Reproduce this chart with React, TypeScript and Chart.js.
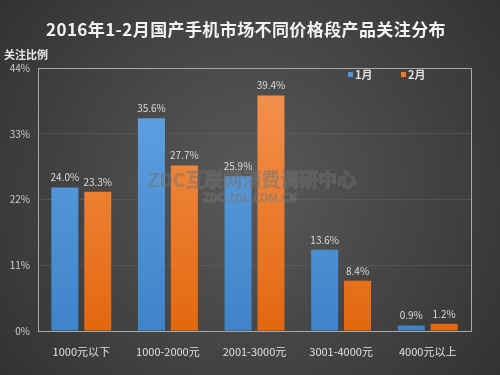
import React, { useEffect, useRef } from "react";
import { Chart, registerables } from "chart.js";

Chart.register(...registerables);

const categories = ["1000元以下", "1000-2000元", "2001-3000元", "3001-4000元", "4000元以上"];
const janValues = [24.0, 35.6, 25.9, 13.6, 0.9];
const febValues = [23.3, 27.7, 39.4, 8.4, 1.2];
const seriesNames = ["1月", "2月"];
const yTicks = [0, 11, 22, 33, 44];
const titleText = "2016年1-2月国产手机市场不同价格段产品关注分布";
const yAxisTitle = "关注比例";

const FONT = "'Noto Sans CJK SC', 'Noto Sans', sans-serif";

function makeGrad(ctx: CanvasRenderingContext2D, area: any, top: string, bottom: string) {
  const g = ctx.createLinearGradient(0, area.top, 0, area.bottom);
  g.addColorStop(0, top);
  g.addColorStop(1, bottom);
  return g;
}

const decorPlugin = {
  id: "decor",
  beforeDraw(chart: any) {
    const { ctx, width, height } = chart;
    ctx.save();
    const g = ctx.createRadialGradient(width / 2, height / 2, 20, width / 2, height / 2, 330);
    g.addColorStop(0, "#575757");
    g.addColorStop(1, "#303030");
    ctx.fillStyle = g;
    ctx.fillRect(0, 0, width, height);
    // title
    ctx.fillStyle = "#f2f2f2";
    ctx.font = `bold 17px ${FONT}`;
    ctx.textAlign = "center";
    ctx.textBaseline = "middle";
    (ctx as any).letterSpacing = "0.4px";
    ctx.fillText(titleText, 246, 30);
    (ctx as any).letterSpacing = "0px";
    // y axis title
    ctx.font = `bold 11px ${FONT}`;
    ctx.textAlign = "left";
    ctx.fillStyle = "#e8e8e8";
    ctx.fillText(yAxisTitle, 4, 55);
    ctx.restore();
  },
  beforeDatasetsDraw(chart: any) {
    const { ctx, chartArea } = chart;
    ctx.save();
    ctx.strokeStyle = "#a8a8a8";
    ctx.lineWidth = 1;
    ctx.strokeRect(Math.round(chartArea.left) + 0.5, Math.round(chartArea.top) + 0.5,
      Math.round(chartArea.right - chartArea.left), Math.round(chartArea.bottom - chartArea.top));
    ctx.restore();
  },
  afterDatasetsDraw(chart: any) {
    const { ctx } = chart;
    ctx.save();
    ctx.font = `10px ${FONT}`;
    ctx.fillStyle = "#dcdcdc";
    ctx.textAlign = "center";
    ctx.textBaseline = "bottom";
    chart.data.datasets.forEach((ds: any, i: number) => {
      const meta = chart.getDatasetMeta(i);
      meta.data.forEach((bar: any, j: number) => {
        ctx.fillText(ds.data[j].toFixed(1) + "%", bar.x, bar.y - 5);
      });
    });
    // legend
    const colors = ["#4f95dc", "#ef7a2a"];
    const lx = [348, 401];
    ctx.font = `bold 11px ${FONT}`;
    ctx.textAlign = "left";
    ctx.textBaseline = "middle";
    seriesNames.forEach((n, i) => {
      ctx.fillStyle = colors[i];
      ctx.fillRect(lx[i], 72, 5, 5);
      ctx.fillStyle = "#e0e0e0";
      ctx.fillText(n, lx[i] + 7, 75);
    });
    // watermark
    ctx.textAlign = "center";
    ctx.font = `bold 19px ${FONT}`;
    ctx.fillStyle = "rgba(105,105,105,0.4)";
    ctx.strokeStyle = "rgba(140,140,140,0.3)";
    ctx.lineWidth = 1;
    ctx.fillText("ZDC互联网消费调研中心", 252, 180);
    ctx.strokeText("ZDC互联网消费调研中心", 252, 180);
    ctx.font = `bold 11px ${FONT}`;
    ctx.fillText("ZDC.ZOL.COM.CN", 250, 198);
    ctx.strokeText("ZDC.ZOL.COM.CN", 250, 198);
    ctx.restore();
  },
};

export default function App() {
  const ref = useRef<HTMLCanvasElement | null>(null);
  useEffect(() => {
    document.body.style.margin = "0";
    const canvas = ref.current!;
    const chart = new Chart(canvas, {
      type: "bar",
      data: {
        labels: categories,
        datasets: [
          {
            label: seriesNames[0],
            data: janValues,
            backgroundColor: (c: any) =>
              c.chart.chartArea ? makeGrad(c.chart.ctx, c.chart.chartArea, "#62a6e6", "#3f83c9") : "#4f95dc",
            borderWidth: 0,
            categoryPercentage: 0.76,
            barPercentage: 0.82,
          },
          {
            label: seriesNames[1],
            data: febValues,
            backgroundColor: (c: any) =>
              c.chart.chartArea ? makeGrad(c.chart.ctx, c.chart.chartArea, "#f59453", "#e3680f") : "#ef7a2a",
            borderWidth: 0,
            categoryPercentage: 0.76,
            barPercentage: 0.82,
          },
        ],
      },
      options: {
        animation: false,
        responsive: false,
        maintainAspectRatio: false,
        layout: { padding: { top: 68, right: 29, bottom: 0, left: 0 } },
        plugins: { legend: { display: false }, tooltip: { enabled: false } },
        scales: {
          x: {
            grid: { display: false },
            border: { display: false },
            ticks: { color: "#e0e0e0", font: { size: 11, family: FONT }, padding: 6, maxRotation: 0 },
            afterFit: (s: any) => { s.height = 44; },
          },
          y: {
            min: 0,
            max: 44,
            afterBuildTicks: (s: any) => { s.ticks = yTicks.map((v) => ({ value: v })); },
            grid: { color: "rgba(100,100,100,0.5)", drawTicks: false, lineWidth: 1 },
            border: { display: false },
            ticks: {
              color: "#cfcfcf",
              font: { size: 10, family: FONT },
              padding: 8,
              callback: (v: any) => v + "%",
            },
            afterFit: (s: any) => { s.width = 38; },
          },
        },
      },
      plugins: [decorPlugin],
    } as any);
    return () => chart.destroy();
  }, []);
  return (
    <div style={{ position: "absolute", left: 0, top: 0, width: 500, height: 375 }}>
      <canvas ref={ref} width={500} height={375} style={{ width: 500, height: 375 }} />
    </div>
  );
}
